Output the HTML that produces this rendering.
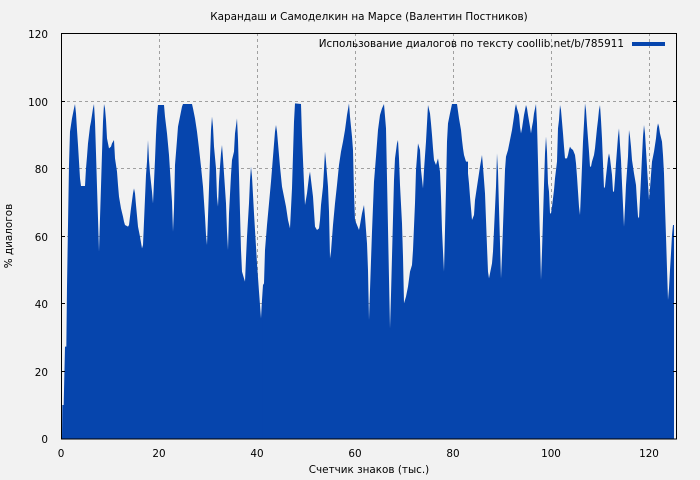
<!DOCTYPE html>
<html><head><meta charset="utf-8"><style>
body{margin:0;background:#f2f2f2;}
svg{display:block;font-family:"DejaVu Sans","Liberation Sans",sans-serif;}
</style></head><body>
<svg width="700" height="480" xmlns="http://www.w3.org/2000/svg">
<rect width="700" height="480" fill="#f2f2f2"/>
<g stroke="#a0a0a0" stroke-dasharray="3,3" stroke-width="1">
<line x1="159.5" y1="33" x2="159.5" y2="439"/><line x1="257.5" y1="33" x2="257.5" y2="439"/>
<line x1="355.5" y1="33" x2="355.5" y2="439"/><line x1="453.5" y1="33" x2="453.5" y2="439"/>
<line x1="551.5" y1="33" x2="551.5" y2="439"/><line x1="649.5" y1="33" x2="649.5" y2="439"/>
<line x1="61" y1="371.5" x2="677" y2="371.5"/><line x1="61" y1="303.5" x2="677" y2="303.5"/>
<line x1="61" y1="236.5" x2="677" y2="236.5"/><line x1="61" y1="168.5" x2="677" y2="168.5"/>
<line x1="61" y1="101.5" x2="677" y2="101.5"/>
</g>
<g fill="#0645ad">
<polygon transform="translate(55,90) scale(0.33333)" points="21,1047 22,945 26,945 30,770 34,770 36,590 39,405 42,225 45,125 48,105 51,85 57,55 60,42 63,70 66,120 69,165 72,215 75,265 78,288 90,288 93,235 96,200 99,160 102,135 105,110 108,95 114,55 117,42 120,95 123,190 126,290 129,385 132,485 135,385 138,290 141,190 144,95 147,42 150,55 153,90 156,145 162,175 168,170 171,160 177,150 180,205 186,245 189,285 192,320 198,355 204,380 207,395 210,405 219,410 222,405 228,355 234,310 237,295 240,310 243,345 249,410 255,440 261,475 264,465 267,395 270,325 273,255 276,215 279,150 282,210 285,250 291,305 294,340 297,275 300,210 303,135 306,80 309,45 327,45 330,80 336,130 342,195 348,290 351,335 354,425 357,355 360,225 366,150 369,110 372,95 378,65 381,50 384,42 411,42 414,55 420,85 426,125 432,175 438,230 444,290 450,380 453,435 456,465 459,380 462,295 465,205 468,120 471,80 474,110 477,170 483,235 486,320 489,350 492,275 495,230 498,190 501,165 504,205 507,250 513,340 516,425 519,480 522,370 528,255 531,210 537,185 540,130 546,85 549,150 552,255 558,480 561,545 567,565 570,575 573,505 576,440 582,340 585,270 588,230 591,260 597,370 603,470 606,520 612,605 615,645 618,685 621,630 624,585 630,585 630,1047"/>
<polygon transform="translate(260,90) scale(0.33333)" points="9,1047 9,585 12,580 15,480 21,405 27,340 33,275 39,200 45,125 48,105 51,125 57,195 60,230 66,290 72,320 78,350 84,390 90,415 96,295 102,95 105,40 123,42 126,140 132,280 135,345 141,310 147,260 150,245 153,270 159,320 165,410 171,420 177,415 180,390 183,345 189,290 195,185 198,215 204,290 207,365 210,505 213,485 219,405 225,340 231,285 237,225 243,185 249,155 255,120 261,75 267,40 270,80 276,140 279,180 282,310 285,390 291,405 297,420 300,405 306,370 312,345 315,380 321,460 324,540 327,690 330,600 336,425 342,275 348,200 354,120 360,75 366,55 372,42 378,115 381,265 384,415 387,565 390,715 393,615 396,500 399,385 402,270 405,205 411,160 414,150 417,205 420,285 426,400 429,500 432,640 438,620 444,590 450,545 456,525 459,480 462,410 465,340 468,240 474,160 480,180 483,240 489,295 492,240 498,155 501,100 504,45 510,70 513,100 516,135 519,175 522,210 528,225 534,205 540,245 543,320 546,420 549,485 552,545 555,420 558,295 561,155 564,100 570,70 576,42 591,42 597,85 603,120 606,150 609,175 612,195 618,215 624,215 624,1047"/>
<polygon transform="translate(465,90) scale(0.33333)" points="0,1047 0,212 3,215 6,220 12,280 15,320 18,355 21,390 27,375 30,330 36,290 42,250 45,230 51,195 54,230 60,310 63,390 66,470 69,545 72,565 75,550 78,535 81,520 84,485 87,420 90,355 93,290 96,190 99,245 102,355 105,460 108,565 111,495 114,410 117,325 120,240 123,200 129,180 135,150 141,120 147,80 150,55 153,42 156,55 162,75 165,110 168,130 171,115 177,75 183,45 186,55 189,75 195,110 198,130 201,110 204,95 207,70 213,42 216,100 219,215 222,335 225,450 228,570 231,485 234,385 237,285 240,190 243,140 246,185 249,280 252,305 255,370 258,370 261,350 264,325 267,300 270,265 276,215 279,115 282,90 285,45 288,60 291,95 294,130 297,170 300,205 306,205 309,195 312,180 315,170 318,175 324,180 330,195 333,220 336,260 339,305 342,350 345,375 348,305 351,230 354,155 357,100 360,40 363,60 366,105 369,145 372,185 375,230 378,230 381,215 387,195 390,175 393,145 396,115 399,90 402,60 405,45 408,90 411,145 414,220 417,295 420,290 423,260 429,205 432,190 435,205 441,255 444,305 447,305 450,265 453,220 456,180 459,140 462,115 465,165 468,210 471,280 474,345 477,410 480,350 483,285 489,200 492,120 495,140 498,170 501,210 507,250 513,285 516,335 519,380 522,385 525,325 528,265 531,200 534,140 537,105 540,130 543,180 546,230 549,280 552,330 555,295 558,255 561,215 567,185 570,165 573,145 576,115 579,100 582,110 585,130 591,155 594,195 597,250 600,350 603,440 606,535 609,630 612,595 615,540 618,490 621,435 624,405 627,405 627,1047"/>
</g>
<rect x="61.5" y="33.5" width="615" height="405.5" fill="none" stroke="#000" stroke-width="1"/>
<g stroke="#000">
<line x1="61" y1="371.5" x2="65" y2="371.5"/><line x1="61" y1="303.5" x2="65" y2="303.5"/>
<line x1="61" y1="236.5" x2="65" y2="236.5"/><line x1="61" y1="168.5" x2="65" y2="168.5"/>
<line x1="61" y1="101.5" x2="65" y2="101.5"/>
<line x1="673" y1="371.5" x2="677" y2="371.5"/><line x1="673" y1="303.5" x2="677" y2="303.5"/>
<line x1="673" y1="236.5" x2="677" y2="236.5"/><line x1="673" y1="168.5" x2="677" y2="168.5"/>
<line x1="673" y1="101.5" x2="677" y2="101.5"/>
</g>
<g font-size="10.4" fill="#000" text-anchor="end">
<text x="48" y="443">0</text><text x="48" y="376">20</text><text x="48" y="308">40</text>
<text x="48" y="241">60</text><text x="48" y="173">80</text><text x="48" y="106">100</text>
<text x="48" y="38">120</text>
</g>
<g font-size="10.4" fill="#000" text-anchor="middle">
<text x="61" y="457">0</text><text x="159" y="457">20</text><text x="257" y="457">40</text>
<text x="355" y="457">60</text><text x="453" y="457">80</text><text x="551" y="457">100</text>
<text x="649" y="457">120</text>
<text x="369" y="473">Счетчик знаков (тыс.)</text>
<text x="369" y="20">Карандаш и Самоделкин на Марсе (Валентин Постников)</text>
<text transform="translate(12,236) rotate(-90)">% диалогов</text>
</g>
<text x="624" y="47" font-size="10.4" text-anchor="end">Использование диалогов по тексту coollib.net/b/785911</text>
<rect x="632" y="42" width="33" height="4" fill="#0645ad"/>
</svg>
</body></html>
